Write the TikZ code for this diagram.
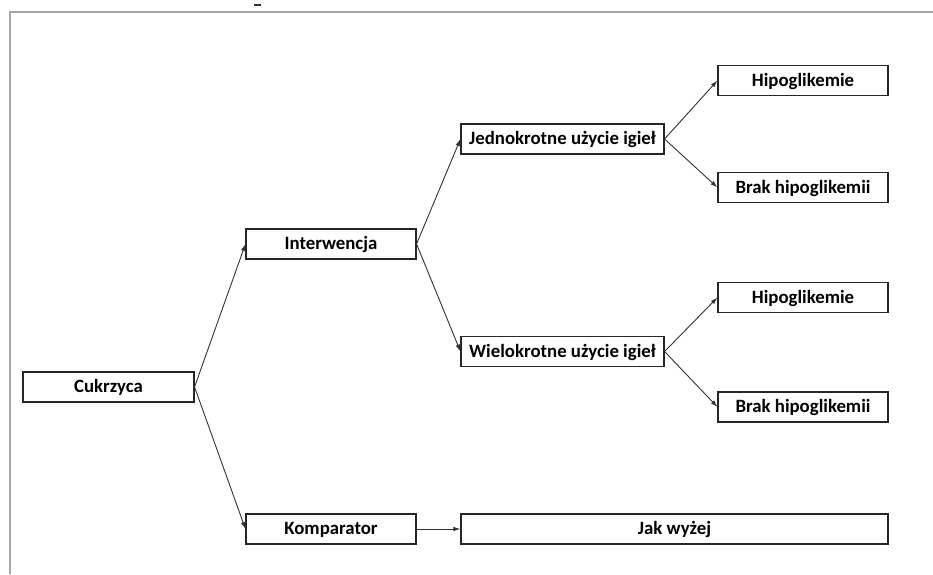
\documentclass[tikz,border=0pt]{standalone}
\usepackage{fontspec}
\setmainfont{Carlito}
\usetikzlibrary{arrows.meta}
\begin{document}
\begin{tikzpicture}[x=1pt,y=-1pt,
  box/.style={draw=black!85,line width=1.1pt,fill=white,minimum height=30pt,inner sep=0pt,
    text height=13.5pt,text depth=2.5pt,font=\bfseries\fontsize{18.8}{22}\selectfont},
  conn/.style={draw=black!80,line width=0.9pt,-{Latex[length=7pt,width=4.5pt]}}]
\useasboundingbox (0,0) rectangle (933,574);
% frame
\draw[line width=2pt,black!35] (10,574) -- (10,12) -- (933,12);
\draw[line width=1.5pt,black!80] (254,5) -- (261,5);
% nodes
\node[box,minimum width=171pt] (cuk) at (108.5,387) {Cukrzyca};
\node[box,minimum width=170pt] (int) at (331,244) {Interwencja};
\node[box,minimum width=170pt] (kom) at (331,529) {Komparator};
\node[box,minimum width=203pt] (jed) at (562.5,139) {Jednokrotne użycie igieł};
\node[box,minimum width=203pt] (wie) at (562.5,351.5) {Wielokrotne użycie igieł};
\node[box,minimum width=427pt] (jak) at (674.5,529) {Jak wyżej};
\node[box,minimum width=170pt] (h1) at (803,80.5) {Hipoglikemie};
\node[box,minimum width=170pt] (b1) at (803,187.5) {Brak hipoglikemii};
\node[box,minimum width=170pt] (h2) at (803,297.5) {Hipoglikemie};
\node[box,minimum width=170pt] (b2) at (803,407) {Brak hipoglikemii};
% connectors
\draw[conn] (cuk.east) -- (int.west);
\draw[conn] (cuk.east) -- (kom.west);
\draw[conn] (int.east) -- (jed.west);
\draw[conn] (int.east) -- (wie.west);
\draw[conn] (jed.east) -- (h1.west);
\draw[conn] (jed.east) -- (b1.west);
\draw[conn] (wie.east) -- (h2.west);
\draw[conn] (wie.east) -- (b2.west);
\draw[conn] (kom.east) -- (jak.west);
\end{tikzpicture}
\end{document}
